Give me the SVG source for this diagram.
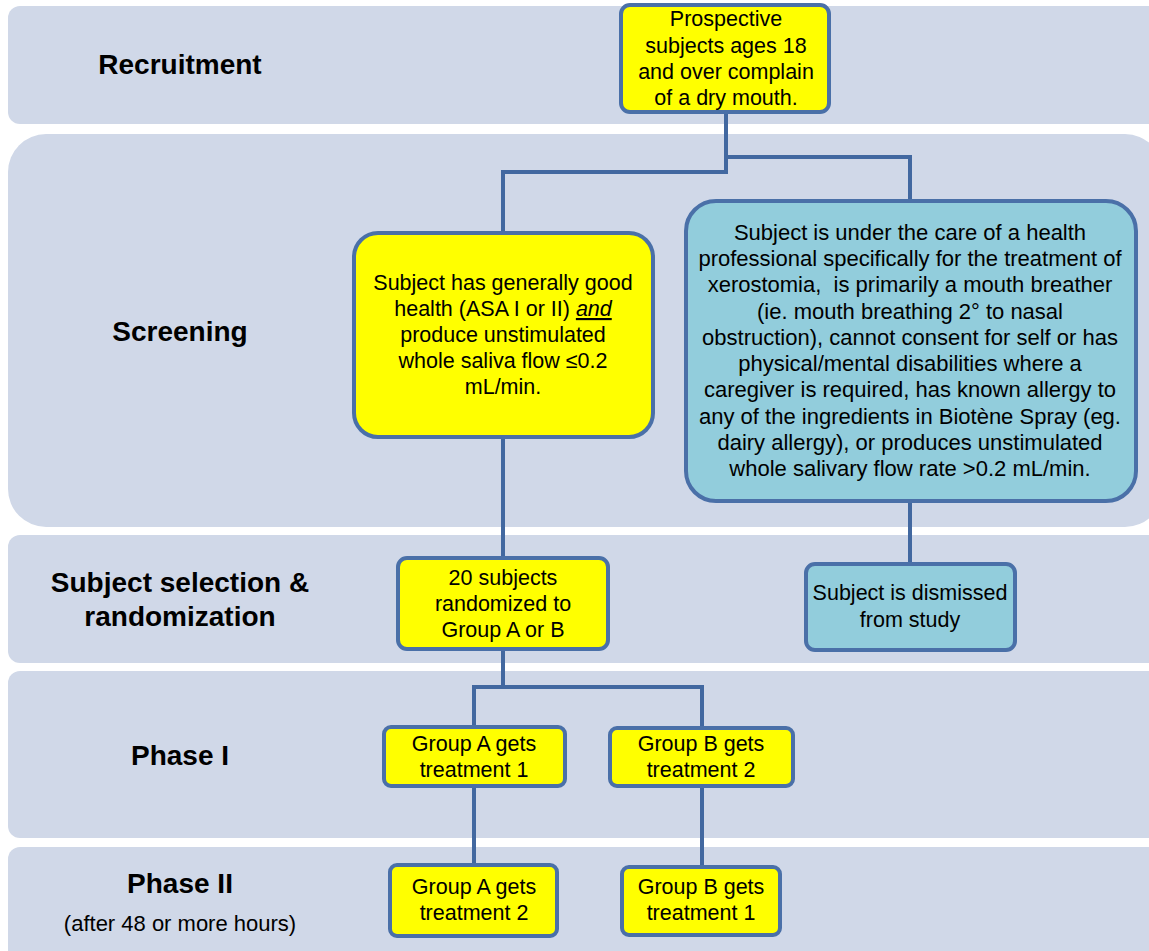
<svg xmlns="http://www.w3.org/2000/svg" width="1149" height="951" viewBox="0 0 1149 951">
<style>
.band{fill:#D0D8E8;}
.lbl{font-family:"Liberation Sans",Arial,sans-serif;font-weight:bold;font-size:28px;fill:#000;text-anchor:middle;}
.sub{font-family:"Liberation Sans",Arial,sans-serif;font-size:22px;fill:#000;text-anchor:middle;}
.box{stroke:#4A70A8;stroke-width:4;}
.y{fill:#FFFF00;}
.c{fill:#92CDDC;}
.t{font-family:"Liberation Sans",Arial,sans-serif;font-size:21.5px;fill:#000;text-anchor:middle;}
.tc{font-family:"Liberation Sans",Arial,sans-serif;font-size:22px;fill:#000;text-anchor:middle;}
.conn{fill:none;stroke:#4268A0;stroke-width:4;}
</style>
<rect width="1149" height="951" fill="#FFFFFF"/>
<g id="bands">
<rect class="band" x="8" y="6" width="1160" height="118" rx="12"/>
<rect class="band" x="8" y="134" width="1155" height="393" rx="38"/>
<rect class="band" x="8" y="535" width="1160" height="128" rx="12"/>
<rect class="band" x="8" y="671" width="1160" height="167" rx="12"/>
<rect class="band" x="8" y="847" width="1160" height="130" rx="12"/>
</g>
<g id="labels">
<text class="lbl" x="180" y="74">Recruitment</text>
<text class="lbl" x="180" y="341">Screening</text>
<text class="lbl" x="180" y="592">Subject selection &amp;</text>
<text class="lbl" x="180" y="626">randomization</text>
<text class="lbl" x="180" y="765">Phase I</text>
<text class="lbl" x="180" y="893">Phase II</text>
<text class="sub" x="180" y="931">(after 48 or more hours)</text>
</g>
<g id="connectors">
<polyline class="conn" points="726,113 726,172 503,172 503,232"/>
<polyline class="conn" points="726,157 910,157 910,200"/>
<line class="conn" x1="503" y1="438" x2="503" y2="557"/>
<line class="conn" x1="910" y1="502" x2="910" y2="563"/>
<polyline class="conn" points="503,650 503,687"/>
<polyline class="conn" points="474,726 474,687 702,687 702,727"/>
<line class="conn" x1="474" y1="787" x2="474" y2="864"/>
<line class="conn" x1="702" y1="787" x2="702" y2="866"/>
</g>
<g id="prospective">
<rect class="box y" x="621" y="5" width="208" height="107" rx="9"/>
<text class="t" x="726" y="26">Prospective</text>
<text class="t" x="726" y="53">subjects ages 18</text>
<text class="t" x="726" y="79">and over complain</text>
<text class="t" x="726" y="105">of a dry mouth.</text>
</g>
<g id="good-health">
<rect class="box y" x="354" y="233" width="299" height="204" rx="24"/>
<text class="t" x="503" y="290">Subject has generally good</text>
<text class="t" x="503" y="316">health (ASA I or II) <tspan font-style="italic" text-decoration="underline">and</tspan></text>
<text class="t" x="503" y="342">produce unstimulated</text>
<text class="t" x="503" y="368">whole saliva flow ≤0.2</text>
<text class="t" x="503" y="394">mL/min.</text>
</g>
<g id="excluded">
<rect class="box c" x="686" y="201" width="450" height="300" rx="30"/>
<text class="tc" x="910" y="240">Subject is under the care of a health</text>
<text class="tc" x="910" y="266">professional specifically for the treatment of</text>
<text class="tc" x="910" y="292">xerostomia, &#160;is primarily a mouth breather</text>
<text class="tc" x="910" y="319">(ie. mouth breathing 2° to nasal</text>
<text class="tc" x="910" y="345">obstruction), cannot consent for self or has</text>
<text class="tc" x="910" y="371">physical/mental disabilities where a</text>
<text class="tc" x="910" y="397">caregiver is required, has known allergy to</text>
<text class="tc" x="910" y="424">any of the ingredients in Biotène Spray (eg.</text>
<text class="tc" x="910" y="450">dairy allergy), or produces unstimulated</text>
<text class="tc" x="910" y="476">whole salivary flow rate &gt;0.2 mL/min.</text>
</g>
<g id="randomized">
<rect class="box y" x="398" y="558" width="210" height="91" rx="9"/>
<text class="t" x="503" y="585">20 subjects</text>
<text class="t" x="503" y="611">randomized to</text>
<text class="t" x="503" y="637">Group A or B</text>
</g>
<g id="dismissed">
<rect class="box c" x="806" y="564" width="209" height="86" rx="9"/>
<text class="t" x="910" y="600">Subject is dismissed</text>
<text class="t" x="910" y="627">from study</text>
</g>
<g id="a1">
<rect class="box y" x="384" y="727" width="181" height="59" rx="7"/>
<text class="t" x="474" y="751">Group A gets</text>
<text class="t" x="474" y="777">treatment 1</text>
</g>
<g id="b2">
<rect class="box y" x="610" y="728" width="183" height="58" rx="7"/>
<text class="t" x="701" y="751">Group B gets</text>
<text class="t" x="701" y="777">treatment 2</text>
</g>
<g id="a2">
<rect class="box y" x="390" y="865" width="167" height="71" rx="7"/>
<text class="t" x="474" y="894">Group A gets</text>
<text class="t" x="474" y="920">treatment 2</text>
</g>
<g id="b1">
<rect class="box y" x="622" y="867" width="158" height="68" rx="7"/>
<text class="t" x="701" y="894">Group B gets</text>
<text class="t" x="701" y="920">treatment 1</text>
</g>
</svg>
